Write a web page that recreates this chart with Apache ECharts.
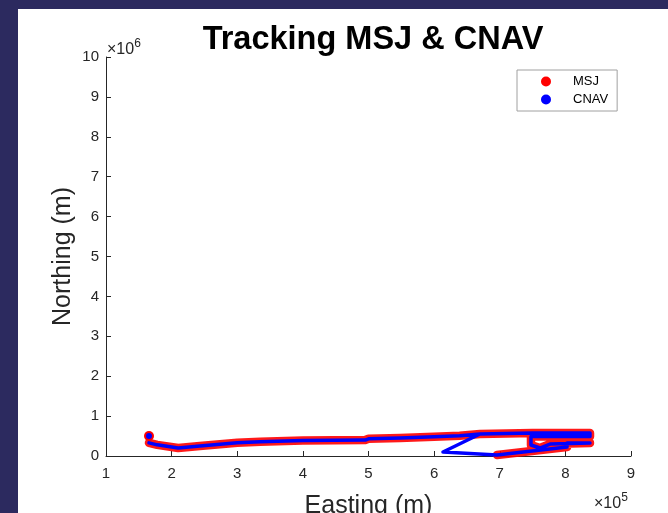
<!DOCTYPE html>
<html>
<head>
<meta charset="utf-8">
<script src="https://cdn.jsdelivr.net/npm/echarts@6/dist/echarts.min.js"></script>
<style>
html,body{margin:0;padding:0;background:#2c2a5f;}
#chart{width:668px;height:513px;}
</style>
</head>
<body>
<div id="chart"></div>
<script>
// Easting (m) and Northing (m) of each track; null = gap in the track
var msjEasting  = [165500, null, 165500, 178000, 210000, 243000, 300000, 335000, 400000, 495000, 500000, 548000, 600000, 639000, 669900, 750000, 837500, 837500, 747600, 747600, 761300, 776600, 837500, 802500, 802500, 695800];
var msjNorthing = [500000, null, 330000, 280000, 200000, 250000, 330000, 360000, 390000, 400000, 430000, 450000, 480000, 510000, 551000, 576000, 576000, 490000, 490000, 276000, 200000, 300000, 326000, 326000, 226000, 25000];

var cnavEasting  = [165500, null, 165500, 178000, 210000, 243000, 300000, 335000, 400000, 495000, 500000, 548000, 600000, 639000, 669900, 750000, 837500, 837500, 747600, 747600, 761300, 776600, 837500, 802500, 802500, 695800, 613500, 669900];
var cnavNorthing = [500000, null, 330000, 280000, 200000, 250000, 330000, 360000, 390000, 400000, 430000, 450000, 480000, 510000, 551000, 576000, 576000, 490000, 490000, 276000, 200000, 300000, 326000, 326000, 226000, 25000, 100000, 551000];

var xTicks = [1, 2, 3, 4, 5, 6, 7, 8, 9];          // x 10^5
var yTicks = [0, 1, 2, 3, 4, 5, 6, 7, 8, 9, 10];   // x 10^6

function pairs(xs, ys) {
  var out = [];
  for (var i = 0; i < xs.length; i++) {
    if (xs[i] === null || ys[i] === null) { out.push([null, null]); continue; }
    if (i === 0) out.push({ value: [xs[i], ys[i]], symbol: 'circle' });
    else out.push([xs[i], ys[i]]);
  }
  return out;
}

var axisColor = '#262626';
var chart = echarts.init(document.getElementById('chart'));
chart.setOption({
  backgroundColor: '#2c2a5f',
  animation: false,
  title: {
    text: 'Tracking MSJ & CNAV',
    left: 368, top: 19, textAlign: 'center',
    textStyle: { fontFamily: 'Liberation Sans', fontWeight: 'bold', fontSize: 32.5, color: '#000' }
  },
  legend: {
    orient: 'vertical', left: 517, top: 70,
    padding: [5, 9, 5, 24], itemGap: 5, itemWidth: 10, itemHeight: 10,
    borderColor: '#a0a0a0', borderWidth: 1, backgroundColor: '#fff',
    textStyle: { fontFamily: 'Liberation Sans', fontSize: 13, color: '#000', padding: [0, 0, 0, 17] },
    data: [{ name: 'MSJ', icon: 'circle' }, { name: 'CNAV', icon: 'circle' }]
  },
  graphic: [
    { type: 'rect', z: -10, shape: { x: 18, y: 9, width: 650, height: 504 }, style: { fill: '#ffffff' }, silent: true },
    { type: 'text', left: 107, top: 38, style: { text: '{m|×10}{s|6}', rich: { m: { fontFamily: 'Liberation Sans', fontSize: 16, fill: axisColor }, s: { fontFamily: 'Liberation Sans', fontSize: 12, fill: axisColor, padding: [0, 0, 11, 0] } } } },
    { type: 'text', left: 594, top: 492, style: { text: '{m|×10}{s|5}', rich: { m: { fontFamily: 'Liberation Sans', fontSize: 16, fill: axisColor }, s: { fontFamily: 'Liberation Sans', fontSize: 12, fill: axisColor, padding: [0, 0, 11, 0] } } } }
  ],
  grid: { left: 106, right: 37, top: 57, bottom: 57, containLabel: false, outerBoundsMode: 'none' },
  xAxis: {
    type: 'value', min: 100000, max: 900000, interval: 100000,
    name: 'Easting (m)', nameLocation: 'middle', nameGap: 38, nameMoveOverlap: false,
    nameTextStyle: { fontFamily: 'Liberation Sans', fontSize: 25, color: axisColor },
    axisLine: { lineStyle: { color: axisColor, width: 1 } },
    axisTick: { inside: true, length: 5, lineStyle: { color: axisColor } },
    axisLabel: { margin: 10, fontFamily: 'Liberation Sans', fontSize: 15, color: axisColor,
      formatter: function (v) { return String(xTicks[Math.round(v / 100000) - 1]); } },
    splitLine: { show: false }
  },
  yAxis: {
    type: 'value', min: 0, max: 10000000, interval: 1000000,
    name: 'Northing (m)', nameLocation: 'middle', nameGap: 30, nameMoveOverlap: false,
    nameTextStyle: { fontFamily: 'Liberation Sans', fontSize: 25, color: axisColor },
    axisLine: { show: true, lineStyle: { color: axisColor, width: 1 } },
    axisTick: { show: true, inside: true, length: 5, lineStyle: { color: axisColor } },
    axisLabel: { margin: 7, fontFamily: 'Liberation Sans', fontSize: 15, color: axisColor,
      formatter: function (v) { return String(yTicks[Math.round(v / 1000000)]); } },
    splitLine: { show: false }
  },
  series: [
    {
      name: 'MSJ', type: 'line', data: pairs(msjEasting, msjNorthing),
      symbol: 'none', symbolSize: 10, showSymbol: true, connectNulls: false,
      itemStyle: { color: '#ff0000' },
      lineStyle: { color: '#ff0000', width: 8.5, cap: 'round', join: 'round', opacity: 0.9 },
      z: 2
    },
    {
      name: 'CNAV', type: 'line', data: pairs(cnavEasting, cnavNorthing),
      symbol: 'none', symbolSize: 6, showSymbol: true, connectNulls: false,
      itemStyle: { color: '#0000ff' },
      lineStyle: { color: '#0000ff', width: 3.5, cap: 'round', join: 'round' },
      z: 3
    }
  ]
});
</script>
</body>
</html>
